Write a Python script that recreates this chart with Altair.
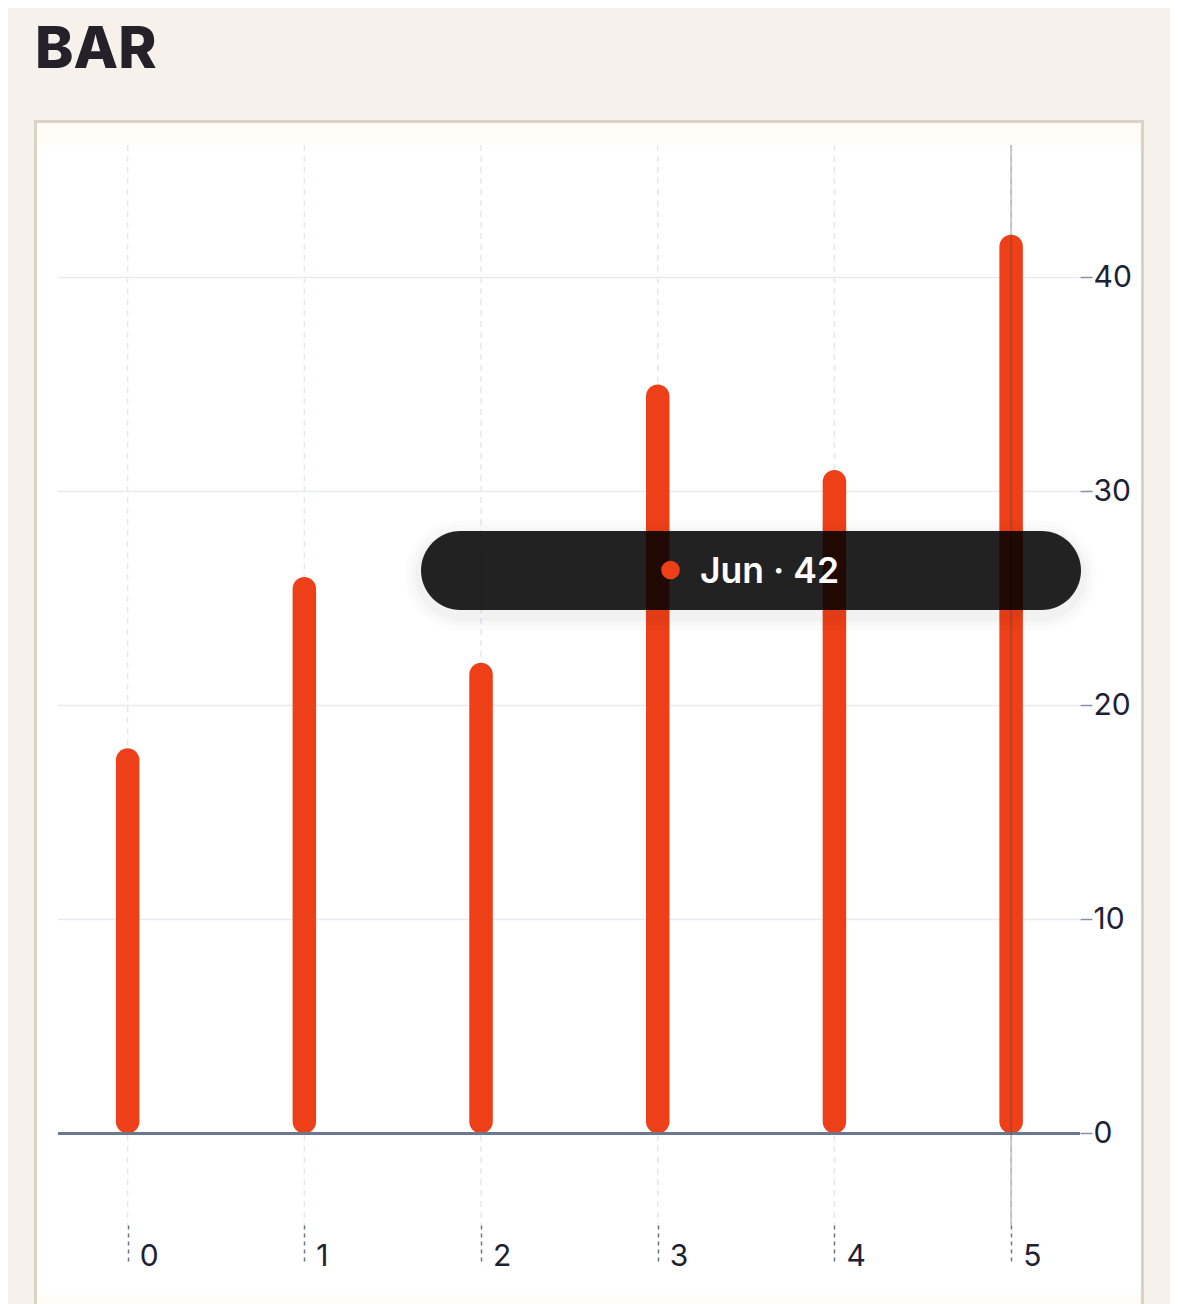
import altair as alt
import pandas as pd

# ---- data ----
months = ["Jan", "Feb", "Mar", "Apr", "May", "Jun"]
values = [18, 26, 22, 35, 31, 42]
x_ticks = [0, 1, 2, 3, 4, 5]
y_ticks = [0, 10, 20, 30, 40]
y_grid = [10, 20, 30, 40]
hovered = 5

# ---- styles ----
PAGE_BG = "#f6f1ea"
PANEL_BG = "#fffcf7"
BORDER = "#dbd2c6"
BAR = "#ee4018"
TEXT = "#1c2233"
FONT = "Inter"

W, H = 1104, 1150

bars_df = pd.DataFrame({"idx": x_ticks, "value": values, "month": months,
                        "base": [0] * len(values)})
grid_df = pd.DataFrame({"v": y_grid})
zero_df = pd.DataFrame({"v": [0]})
hover_df = pd.DataFrame({"idx": [x_ticks[hovered]],
                         "label": [f"{months[hovered]} \u00b7 {values[hovered]}"]})
one = pd.DataFrame({"k": [0]})

xs = alt.Scale(domain=[-0.513, 5.735], nice=False, zero=False, padding=0)
ys = alt.Scale(domain=[-7.55, 46.19], nice=False, zero=False, padding=0)

xaxis = alt.Axis(values=x_ticks, format="d", orient="bottom", offset=-70,
                 domain=False, grid=False, tickSize=40, tickDash=[4, 4],
                 tickColor="#6a7487", tickWidth=1.5, labelAlign="left",
                 labelBaseline="alphabetic", labelPadding=0, labelOffset=11.5,
                 labelFont=FONT, labelFontSize=30, labelColor=TEXT, title=None)
yaxis = alt.Axis(values=y_ticks, format="d", orient="right", offset=-61,
                 domain=False, grid=False, tickSize=12, tickColor="#8692a4",
                 tickWidth=1.5, labelPadding=1, labelFont=FONT, labelFontSize=30,
                 labelColor=TEXT, title=None)

X = alt.X("idx:Q", scale=xs, axis=xaxis)

# panel decoration outside the white area
top_strip = alt.Chart(one).mark_rect(color=PANEL_BG).encode(
    x=alt.value(0), x2=alt.value(W), y=alt.value(-22), y2=alt.value(0))
bottom_strip = alt.Chart(one).mark_rect(color=PANEL_BG).encode(
    x=alt.value(0), x2=alt.value(W), y=alt.value(H), y2=alt.value(H + 60))
border = alt.Chart(one).mark_rect(fillOpacity=0, stroke=BORDER, strokeWidth=3).encode(
    x=alt.value(-1.5), x2=alt.value(W + 1.5), y=alt.value(-23.5), y2=alt.value(H + 80))

vgrid = alt.Chart(bars_df).mark_rule(color="#e3e7ee", strokeWidth=1.5,
                                     strokeDash=[6, 5]).encode(
    x=X, y=alt.value(0), y2=alt.value(1080))
hgrid = alt.Chart(grid_df).mark_rule(color="#e7eaf0", strokeWidth=1.5).encode(
    y=alt.Y("v:Q", scale=ys, axis=yaxis), x=alt.value(21), x2=alt.value(1043))
zero = alt.Chart(zero_df).mark_rule(color="#6a778c", strokeWidth=3).encode(
    y=alt.Y("v:Q", scale=ys, axis=yaxis), x=alt.value(21), x2=alt.value(1043))

bars = alt.Chart(bars_df).mark_bar(size=23.5, cornerRadius=11.75, color=BAR).encode(
    x=X, y=alt.Y("value:Q", scale=ys, axis=yaxis), y2="base:Q")

cross = alt.Chart(hover_df).mark_rule(color="#3a3d4a", opacity=0.25,
                                      strokeWidth=2).encode(
    x=X, y=alt.value(0), y2=alt.value(1080))

# tooltip
BX0, BX1, BY0, BY1 = 384, 1044, 386, 465
shadows = []
for grow, op in [(16, 0.012), (11, 0.016), (6, 0.022)]:
    shadows.append(alt.Chart(one).mark_rect(color="#000000", opacity=op,
                                            cornerRadius=39.5 + grow).encode(
        x=alt.value(BX0 - grow), x2=alt.value(BX1 + grow),
        y=alt.value(BY0 - grow + 5), y2=alt.value(BY1 + grow + 5)))
box = alt.Chart(one).mark_rect(color="#000000", opacity=0.86, cornerRadius=39.5).encode(
    x=alt.value(BX0), x2=alt.value(BX1), y=alt.value(BY0), y2=alt.value(BY1))
dot = alt.Chart(hover_df).mark_circle(color=BAR, opacity=1, size=346).encode(
    x=alt.value(633.5), y=alt.value(425))
tip = alt.Chart(hover_df).mark_text(color="#ffffff", font=FONT, fontSize=35.5,
                                    fontWeight=600, align="left",
                                    baseline="alphabetic").encode(
    x=alt.value(663), y=alt.value(438), text="label:N")

chart = alt.layer(top_strip, bottom_strip, border, vgrid, hgrid, bars, zero, cross,
                  *shadows, box, dot, tip).properties(
    width=W, height=H,
    autosize="none",
    padding={"left": 29, "top": 137, "right": 29, "bottom": 40},
    title=alt.TitleParams("BAR", anchor="start", frame="group", font=FONT,
                          fontSize=58, fontWeight=800, color="#25212b",
                          baseline="alphabetic", offset=0, dx=-2, dy=6),
).configure(background=PAGE_BG).configure_view(fill="#ffffff", strokeWidth=0)

chart.save("out.html", embed_options={"renderer": "svg", "actions": False})
